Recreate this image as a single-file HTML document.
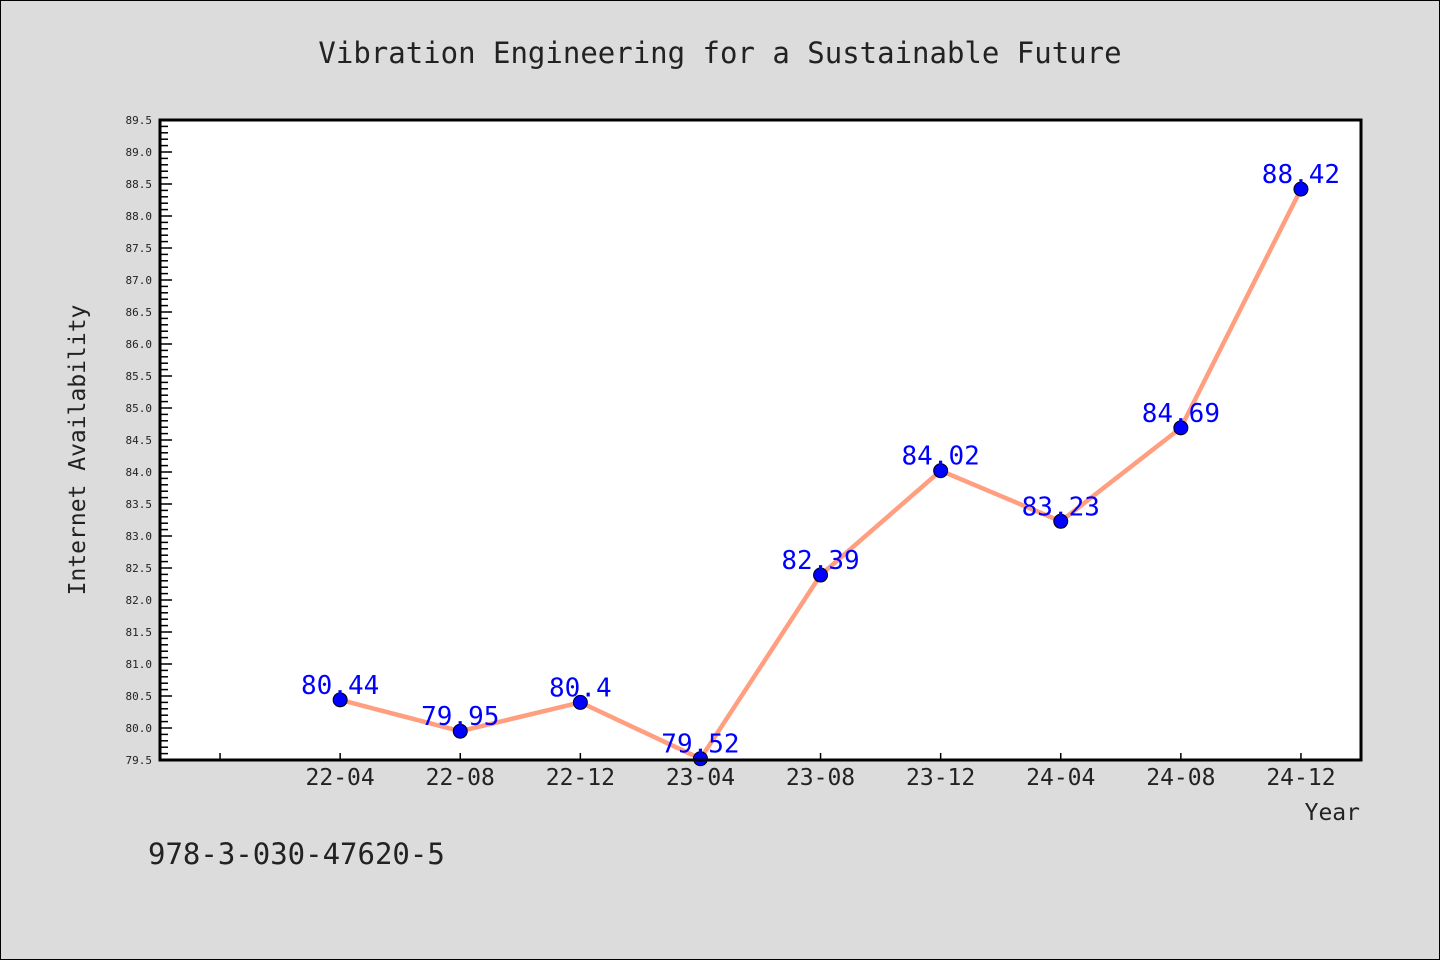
<!DOCTYPE html>
<html><head><meta charset="utf-8"><style>
html,body{margin:0;padding:0;background:#dcdcdc;}
svg{display:block;font-family:"DejaVu Sans Mono","Liberation Mono",monospace;}
</style></head><body>
<svg id="chart" width="1440" height="960">
<rect x="0.5" y="0.5" width="1439" height="959" fill="#dcdcdc" stroke="#000"/>
<text x="720" y="63" text-anchor="middle" font-size="29" fill="#222">Vibration Engineering for a Sustainable Future</text>
<rect x="160" y="120" width="1201" height="640" fill="#fff"/>
<g id="yticks"></g><g id="xticks"></g><g id="series"></g>
<rect x="160" y="120" width="1201" height="640" fill="none" stroke="#000" stroke-width="3"/>
<text transform="translate(85,450) rotate(-90)" text-anchor="middle" font-size="23" fill="#222">Internet Availability</text>
<text x="1360" y="820" text-anchor="end" font-size="23" fill="#222">Year</text>
<text x="148" y="864" font-size="29" fill="#222">978-3-030-47620-5</text>
</svg>
<script>
const categories = ["", "22-04","22-08","22-12","23-04","23-08","23-12","24-04","24-08","24-12"];
const values = [null, 80.44, 79.95, 80.4, 79.52, 82.39, 84.02, 83.23, 84.69, 88.42];
const valueLabels = ["", "80.44","79.95","80.4","79.52","82.39","84.02","83.23","84.69","88.42"];
const yMin = 79.5, yMax = 89.5;
const NS="http://www.w3.org/2000/svg";
const L=160,R=1361,T=120,B=760;
const y = v => B - (v - yMin) / (yMax - yMin) * (B - T);
const x = i => L + (R - L) / categories.length * (i + 0.5);
function mk(tag, attrs, parent){const e=document.createElementNS(NS,tag);for(const k in attrs)e.setAttribute(k,attrs[k]);parent.appendChild(e);return e;}
const yt=document.getElementById('yticks');
for(let k=0;k<=100;k++){
  const v=yMin+k*0.1, yy=y(v), major=k%5===0;
  const t=mk('line',{x1:L,x2:L+(major?12:8),y1:yy,y2:yy,stroke:'#000','stroke-width':1.5},yt);
  
  
  if(major){
    const lb=mk('text',{x:152,y:yy+4,'text-anchor':'end','font-size':11,fill:'#222'},yt);
    lb.textContent=v.toFixed(1);
    
    
  }
}
const xt=document.getElementById('xticks');
categories.forEach((c,i)=>{
  const xx=x(i);
  const t=mk('line',{x1:xx,x2:xx,y1:B,y2:B-7,stroke:'#000','stroke-width':1.5},xt);
  
  
  const lb=mk('text',{x:xx,y:785,'text-anchor':'middle','font-size':23,fill:'#222'},xt);
  lb.textContent=c;
  
  
});
const s=document.getElementById('series');
const pts=values.map((v,i)=>v==null?null:[x(i),y(v)]).filter(p=>p);
const pl=mk('polyline',{points:pts.map(p=>p.join(',')).join(' '),fill:'none',stroke:'#ff9f7f','stroke-width':4.5,'stroke-linejoin':'round'},s);


values.forEach((v,i)=>{
  if(v==null)return;
  const c=mk('circle',{cx:x(i),cy:y(v),r:7,fill:'#0000ff',stroke:'#000','stroke-width':1},s);
  
  
});
values.forEach((v,i)=>{
  if(v==null)return;
  const lb=mk('text',{x:x(i),y:y(v)-6,'text-anchor':'middle','font-size':26,fill:'#0000ff'},s);
  lb.textContent=valueLabels[i];
  
  
});
</script>
</body></html>
